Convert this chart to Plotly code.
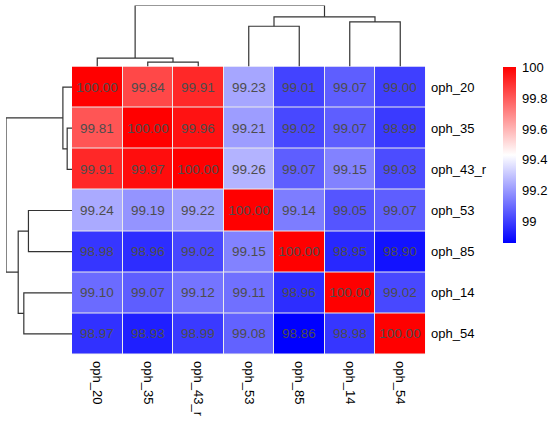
import plotly.graph_objects as go

labels = ["oph_20", "oph_35", "oph_43_r", "oph_53", "oph_85", "oph_14", "oph_54"]

identity = [
    [100.00, 99.84, 99.91, 99.23, 99.01, 99.07, 99.00],
    [99.81, 100.00, 99.96, 99.21, 99.02, 99.07, 98.99],
    [99.91, 99.97, 100.00, 99.26, 99.07, 99.15, 99.03],
    [99.24, 99.19, 99.22, 100.00, 99.14, 99.05, 99.07],
    [98.98, 98.96, 99.02, 99.15, 100.00, 98.95, 98.90],
    [99.10, 99.07, 99.12, 99.11, 98.96, 100.00, 99.02],
    [98.97, 98.93, 98.99, 99.08, 98.86, 98.98, 100.00],
]

# clustering (relative heights)
merge_a = ["oph_35", "oph_20", "oph_53", "oph_14", "node3", "node2"]
merge_b = ["oph_43_r", "node1", "oph_85", "oph_54", "node4", "node5"]
merge_height = [0.073, 0.138, 0.66, 0.73, 0.815, 1.0]

colorbar_ticks = [99, 99.2, 99.4, 99.6, 99.8, 100]

W, H = 550, 423
FONT = "Liberation Sans, Arial, sans-serif"

# build dendrogram segments
pos = {name: i for i, name in enumerate(labels)}
hgt = {name: 0.0 for name in labels}
seg_p, seg_h = [], []
for i, (a, b) in enumerate(zip(merge_a, merge_b)):
    h = merge_height[i]
    seg_p += [pos[a], pos[a], pos[b], pos[b], None]
    seg_h += [hgt[a], h, h, hgt[b], None]
    node = "node%d" % (i + 1)
    pos[node] = (pos[a] + pos[b]) / 2
    hgt[node] = h

zmin = min(min(r) for r in identity)
zmax = max(max(r) for r in identity)

hm_x = [72 / W, 425.5 / W]
hm_y = [1 - 354.5 / H, 1 - 66.5 / H]
idx = list(range(len(labels)))

fig = go.Figure()
fig.add_trace(
    go.Heatmap(
        z=identity,
        x=idx,
        y=idx,
        zmin=zmin,
        zmax=zmax,
        colorscale=[[0, "#0000FF"], [0.5, "#FFFFFF"], [1, "#FF0000"]],
        xgap=1,
        ygap=1,
        texttemplate="%{z:.2f}",
        textfont=dict(family=FONT, size=13.5, color="#4d4d4d"),
        hoverinfo="skip",
        colorbar=dict(
            x=503 / W,
            xanchor="left",
            xpad=0,
            y=1 - 67.3 / H,
            yanchor="top",
            ypad=0,
            lenmode="pixels",
            len=176,
            thickness=12.5,
            outlinewidth=0,
            tickvals=colorbar_ticks,
            ticktext=["%g" % t for t in colorbar_ticks],
            ticks="outside",
            ticklen=4,
            tickcolor="rgba(0,0,0,0)",
            tickfont=dict(family=FONT, size=13, color="#000000"),
        ),
    )
)

line = dict(color="#333333", width=1.2)
fig.add_trace(
    go.Scatter(x=seg_p, y=seg_h, mode="lines", line=line, xaxis="x2", yaxis="y2",
               hoverinfo="skip", cliponaxis=False, showlegend=False)
)
fig.add_trace(
    go.Scatter(x=seg_h, y=seg_p, mode="lines", line=line, xaxis="x3", yaxis="y3",
               hoverinfo="skip", cliponaxis=False, showlegend=False)
)

# light grid colour showing through the cell gaps
fig.add_shape(type="rect", xref="x", yref="y", x0=-0.5, x1=6.5, y0=-0.5, y1=6.5,
              fillcolor="#ebebeb", line_width=0, layer="below")

hidden = dict(visible=False, showgrid=False, zeroline=False)
fig.update_layout(
    width=W,
    height=H,
    margin=dict(l=0, r=0, t=0, b=0),
    paper_bgcolor="white",
    plot_bgcolor="white",
    font=dict(family=FONT, size=13, color="#000000"),
    xaxis=dict(
        domain=hm_x, range=[-0.5, 6.5], tickvals=idx, ticktext=labels,
        tickangle=90, ticks="outside", ticklen=3, tickcolor="rgba(0,0,0,0)",
        showgrid=False, zeroline=False, tickfont=dict(size=13),
    ),
    yaxis=dict(
        domain=hm_y, range=[6.5, -0.5], tickvals=idx, ticktext=labels,
        side="right", ticks="outside", ticklen=2, tickcolor="rgba(0,0,0,0)",
        showgrid=False, zeroline=False, tickfont=dict(size=13),
    ),
    xaxis2=dict(domain=hm_x, range=[-0.5, 6.5], anchor="y2", **hidden),
    yaxis2=dict(domain=[hm_y[1], 1 - 5.5 / H], range=[0, 1.0], anchor="x2", **hidden),
    xaxis3=dict(domain=[6 / W, hm_x[0]], range=[1.0, 0], anchor="y3", **hidden),
    yaxis3=dict(domain=hm_y, range=[6.5, -0.5], anchor="x3", **hidden),
)

# the page body has a default 8px margin; drop it so the figure fills the window
fig.write_html(
    "out.html",
    config={"displayModeBar": False},
    post_script="document.body.style.margin='0px';",
)
